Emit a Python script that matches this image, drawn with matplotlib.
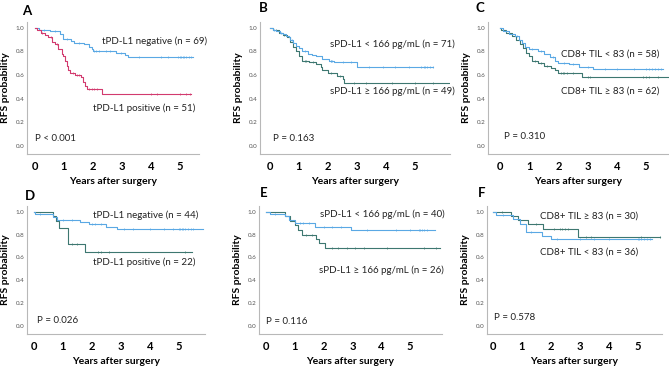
import numpy as np
import matplotlib
matplotlib.use("Agg")
import matplotlib.pyplot as plt

plt.rcParams['font.family'] = ['Lato', 'DejaVu Sans']

BLUE = '#5aa8e4'
RED = '#d23a6e'
DARK = '#3d7770'

# ---- data: step times, survival after each step, censor times, last follow-up ----
# Panel A
a_neg_t = [0.15, 0.5, 0.85, 0.95, 1.25, 1.35, 1.7, 1.85, 1.95, 2.0, 2.8, 3.1, 3.2]
a_neg_s = [0.98, 0.97, 0.95, 0.91, 0.89, 0.87, 0.86, 0.84, 0.82, 0.80, 0.79, 0.77, 0.75]
a_neg_c = [0.3, 0.7, 1.1, 1.5, 2.05, 2.1, 2.2, 2.45, 2.6, 2.95, 3.6, 4.35, 4.6, 4.95, 5.0, 5.05, 5.1, 5.15, 5.2, 5.3, 5.4]
a_neg_end = 5.47
a_pos_t = [0.05, 0.2, 0.35, 0.46, 0.57, 0.69, 0.8, 0.92, 0.98, 1.04, 1.1, 1.15, 1.2, 1.38, 1.6, 1.67, 1.72, 1.78, 2.3]
a_pos_s = [0.98, 0.96, 0.94, 0.92, 0.88, 0.86, 0.82, 0.78, 0.76, 0.72, 0.68, 0.64, 0.62, 0.60, 0.58, 0.54, 0.51, 0.485, 0.44]
a_pos_c = [0.25, 0.55, 0.75, 1.3, 1.45, 1.5, 1.85, 1.95, 2.05, 2.15, 4.0, 4.2, 5.0, 5.2, 5.35]
a_pos_end = 5.4

# Panel B
b_low_t = [0.1, 0.2, 0.35, 0.45, 0.55, 0.65, 0.7, 0.8, 0.9, 1.0, 1.1, 1.3, 1.45, 1.6, 1.8, 2.05, 2.2, 3.0]
b_low_s = [0.98, 0.97, 0.96, 0.95, 0.93, 0.92, 0.90, 0.87, 0.85, 0.83, 0.80, 0.78, 0.77, 0.76, 0.74, 0.72, 0.71, 0.67]
b_low_c = [0.15, 0.4, 0.75, 1.2, 2.1, 2.12, 2.15, 2.5, 2.8, 3.4, 3.9, 4.3, 4.8, 5.2, 5.3, 5.35, 5.4, 5.5, 5.6]
b_low_end = 5.62
b_high_t = [0.1, 0.3, 0.45, 0.6, 0.7, 0.8, 0.9, 1.0, 1.1, 1.35, 1.6, 1.75, 1.8, 2.0, 2.3, 2.5, 2.55]
b_high_s = [0.98, 0.96, 0.94, 0.92, 0.88, 0.84, 0.80, 0.76, 0.72, 0.71, 0.69, 0.67, 0.64, 0.62, 0.59, 0.57, 0.53]
b_high_c = [0.2, 0.5, 1.2, 1.25, 1.5, 2.1, 2.4, 2.9, 3.3, 4.2, 5.0, 5.6]
b_high_end = 6.15

# Panel C
c_low_t = [0.1, 0.3, 0.5, 0.65, 0.75, 0.85, 1.0, 1.3, 1.5, 1.7, 1.9, 2.0, 2.35, 2.7, 3.2]
c_low_s = [0.97, 0.95, 0.93, 0.90, 0.87, 0.84, 0.82, 0.80, 0.78, 0.75, 0.72, 0.70, 0.69, 0.67, 0.65]
c_low_c = [0.2, 0.6, 1.1, 1.4, 1.8, 2.2, 2.5, 3.0, 3.6, 4.0, 4.6, 5.0, 5.1, 5.2, 5.3, 5.4, 5.5]
c_low_end = 5.6
c_high_t = [0.05, 0.2, 0.4, 0.55, 0.7, 0.8, 0.9, 1.0, 1.1, 1.3, 1.5, 1.75, 1.9, 2.0, 2.8]
c_high_s = [0.98, 0.96, 0.93, 0.90, 0.86, 0.83, 0.79, 0.76, 0.72, 0.70, 0.68, 0.66, 0.64, 0.62, 0.58]
c_high_c = [0.3, 1.2, 1.4, 1.6, 2.1, 2.15, 2.2, 2.3, 2.5, 3.0, 3.1, 4.9, 5.0, 5.1, 5.4]
c_high_end = 5.75

# Panel D
d_neg_t = [0.05, 0.65, 0.8, 1.6, 1.9, 2.5, 2.85]
d_neg_s = [0.98, 0.95, 0.93, 0.91, 0.89, 0.87, 0.85]
d_neg_c = [0.2, 1.0, 1.3, 2.0, 2.1, 2.3, 3.1, 3.4, 4.0, 4.5, 4.8, 5.0, 5.05, 5.1, 5.15, 5.2, 5.3, 5.4, 5.5]
d_neg_end = 5.83
d_pos_t = [0.65, 0.75, 0.85, 1.18, 1.76]
d_pos_s = [0.96, 0.92, 0.86, 0.72, 0.65]
d_pos_c = [1.3, 1.5, 2.2, 2.3, 2.6, 5.2]
d_pos_end = 5.44

# Panel E
e_low_t = [0.15, 0.65, 0.8, 1.0, 1.7, 2.95]
e_low_s = [0.98, 0.96, 0.93, 0.90, 0.87, 0.84]
e_low_c = [0.3, 1.2, 1.3, 1.5, 2.0, 2.3, 2.6, 3.5, 4.5, 5.0, 5.3, 5.35, 5.4, 5.5, 5.6]
e_low_end = 5.85
e_high_t = [0.65, 0.85, 1.0, 1.1, 1.25, 1.75, 1.85, 2.05]
e_high_s = [0.96, 0.92, 0.88, 0.84, 0.80, 0.76, 0.73, 0.68]
e_high_c = [1.4, 1.6, 2.3, 2.5, 2.8, 3.1, 3.4, 4.2, 5.5, 5.9]
e_high_end = 6.04

# Panel F
f_high_t = [0.64, 0.87, 1.22, 1.72, 2.93]
f_high_s = [0.96, 0.93, 0.895, 0.85, 0.78]
f_high_c = [0.3, 1.5, 2.1, 2.3, 2.4, 2.5, 2.6, 3.2, 3.4, 5.1, 5.75]
f_high_end = 5.75
f_low_t = [0.1, 0.7, 0.95, 1.15, 1.7, 2.0]
f_low_s = [0.97, 0.94, 0.89, 0.82, 0.79, 0.76]
f_low_c = [0.35, 1.3, 2.2, 3.0, 3.5, 4.0, 5.0, 5.05, 5.1, 5.2, 5.3, 5.4]
f_low_end = 5.47

panel_letters = ['A', 'B', 'C', 'D', 'E', 'F']
p_values = ['P < 0.001', 'P = 0.163', 'P = 0.310', 'P = 0.026', 'P = 0.116', 'P = 0.578']
xticks = [0, 1, 2, 3, 4, 5]
yticks = [0.0, 0.2, 0.4, 0.6, 0.8, 1.0]


def km(ax, t, s, c, end, color):
    x = [0.0] + list(t) + [end]
    y = [1.0] + list(s) + [s[-1]]
    ax.step(x, y, where='post', color=color, lw=0.8)
    levels = np.array([1.0] + list(s))
    idx = np.searchsorted(np.array(t), np.array(c), side='right')
    ax.plot(c, levels[idx], ls='none', marker='|', ms=2.0, mew=0.5, color=color)


W, H = 669.0, 367.0
fig = plt.figure(figsize=(W / 100, H / 100), dpi=100)


def make_axes(left, right, top, bottom, xlim):
    ax = fig.add_axes([left / W, 1 - bottom / H, (right - left) / W, (bottom - top) / H])
    ax.set_xlim(xlim)
    ax.set_ylim(-0.07, 1.05)
    for side in ['top', 'right']:
        ax.spines[side].set_visible(False)
    for side in ['left', 'bottom']:
        ax.spines[side].set_color('#b8b8b8')
        ax.spines[side].set_linewidth(0.8)
    ax.set_xticks(xticks)
    ax.set_xticklabels([str(v) for v in xticks], fontsize=8, fontweight='bold')
    ax.set_yticks(yticks)
    ax.set_yticklabels(['%.1f' % v for v in yticks], fontsize=4.5, color='#555555')
    ax.tick_params(axis='both', length=0)
    ax.tick_params(axis='x', pad=5)
    ax.tick_params(axis='y', pad=2)
    ax.set_xlabel('Years after surgery', fontsize=7.5, fontweight='bold', labelpad=4)
    ax.set_ylabel('RFS probability', fontsize=7.5, fontweight='bold', labelpad=4)
    return ax


axA = make_axes(27, 199, 22, 154, (-0.28, 5.66))
axB = make_axes(260, 450, 22, 154, (-0.34, 6.2))
axC = make_axes(488, 669, 22, 154, (-0.41, 5.79))
axD = make_axes(27, 205, 206, 334, (-0.24, 5.9))
axE = make_axes(259, 442, 206, 334, (-0.24, 6.11))
axF = make_axes(487, 662, 206, 334, (-0.2, 5.83))
axes = [axA, axB, axC, axD, axE, axF]

km(axA, a_neg_t, a_neg_s, a_neg_c, a_neg_end, BLUE)
km(axA, a_pos_t, a_pos_s, a_pos_c, a_pos_end, RED)
km(axB, b_high_t, b_high_s, b_high_c, b_high_end, DARK)
km(axB, b_low_t, b_low_s, b_low_c, b_low_end, BLUE)
km(axC, c_high_t, c_high_s, c_high_c, c_high_end, DARK)
km(axC, c_low_t, c_low_s, c_low_c, c_low_end, BLUE)
km(axD, d_pos_t, d_pos_s, d_pos_c, d_pos_end, DARK)
km(axD, d_neg_t, d_neg_s, d_neg_c, d_neg_end, BLUE)
km(axE, e_high_t, e_high_s, e_high_c, e_high_end, DARK)
km(axE, e_low_t, e_low_s, e_low_c, e_low_end, BLUE)
km(axF, f_high_t, f_high_s, f_high_c, f_high_end, DARK)
km(axF, f_low_t, f_low_s, f_low_c, f_low_end, BLUE)

tk = dict(fontsize=7, va='center', ha='left', color='#222222')
axA.text(2.3, 0.89, 'tPD-L1 negative (n = 69)', **tk)
axA.text(2.0, 0.32, 'tPD-L1 positive (n = 51)', **tk)
axB.text(2.07, 0.86, 'sPD-L1 < 166 pg/mL (n = 71)', **tk)
axB.text(2.07, 0.46, 'sPD-L1 \u2265 166 pg/mL (n = 49)', **tk)
axC.text(2.1, 0.78, 'CD8+ TIL < 83 (n = 58)', **tk)
axC.text(2.1, 0.46, 'CD8+ TIL \u2265 83 (n = 62)', **tk)
axD.text(2.02, 0.97, 'tPD-L1 negative (n = 44)', **tk)
axD.text(2.02, 0.56, 'tPD-L1 positive (n = 22)', **tk)
axE.text(1.88, 0.98, 'sPD-L1 < 166 pg/mL (n = 40)', **tk)
axE.text(1.85, 0.49, 'sPD-L1 \u2265 166 pg/mL (n = 26)', **tk)
axF.text(1.62, 0.96, 'CD8+ TIL \u2265 83 (n = 30)', **tk)
axF.text(1.62, 0.65, 'CD8+ TIL < 83 (n = 36)', **tk)

p_pos = [(0.0, 0.06), (0.1, 0.06), (0.14, 0.08), (0.09, 0.05), (0.02, 0.04), (0.03, 0.07)]
for ax, p, (px, py) in zip(axes, p_values, p_pos):
    ax.text(px, py, p, **tk)

letter_pos = [(22, 11), (259, 8), (476, 8), (25, 196), (260, 193), (478, 193)]
for letter, (lx, ly) in zip(panel_letters, letter_pos):
    fig.text(lx / W, 1 - ly / H, letter, fontsize=9.5, fontweight='bold', ha='left', va='center')

fig.savefig('out.png', dpi=100)
